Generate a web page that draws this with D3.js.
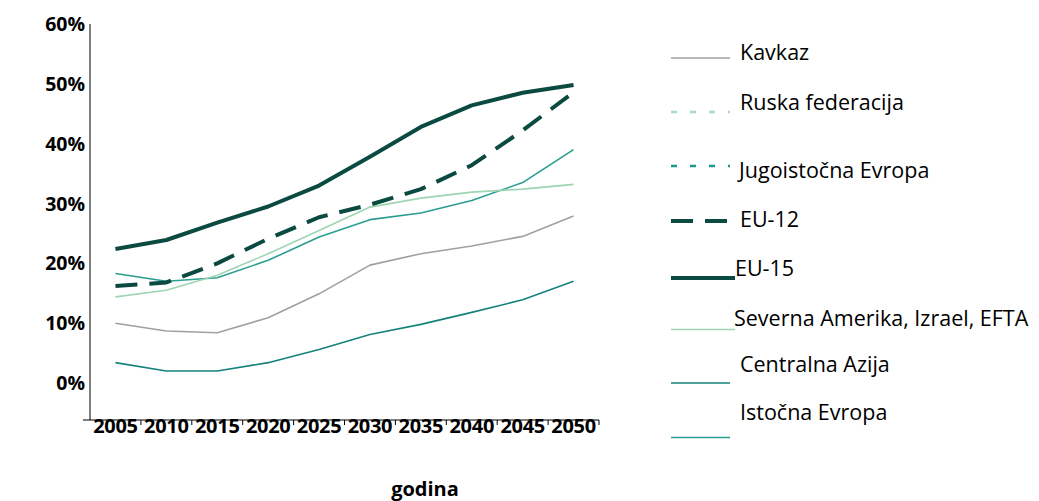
<!DOCTYPE html>
<html>
<head>
<meta charset="utf-8">
<script src="https://cdn.jsdelivr.net/npm/d3@7"></script>
<style>
  body { margin: 0; background: #fff; }
  svg { display: block; }
  text { font-family: "Open Sans", Lato, sans-serif; fill: #000; }
</style>
</head>
<body>
<svg id="chart" width="1039" height="501"></svg>
<script>
// ---- data ----
const years = [2005, 2010, 2015, 2020, 2025, 2030, 2035, 2040, 2045, 2050];
const yTicks = [0, 10, 20, 30, 40, 50, 60];
const xTitle = "godina";

const seriesNames = ["Kavkaz", "Ruska federacija", "Jugoistočna Evropa", "EU-12", "EU-15",
  "Severna Amerika, Izrael, EFTA", "Centralna Azija", "Istočna Evropa"];

const kavkaz   = [10.0, 8.7, 8.4, 10.9, 14.9, 19.7, 21.6, 22.9, 24.5, 27.9];
const ruska    = [];  // not visible in the chart
const jugoist  = [];  // not visible in the chart
const eu12     = [16.2, 16.8, 20.0, 24.1, 27.7, 29.8, 32.4, 36.4, 42.2, 48.6];
const eu15     = [22.4, 23.9, 26.8, 29.5, 33.0, 37.8, 42.8, 46.4, 48.5, 49.8];
const severna  = [14.4, 15.5, 18.0, 21.6, 25.5, 29.4, 30.9, 31.9, 32.4, 33.2];
const centralna= [3.4, 2.0, 2.0, 3.4, 5.6, 8.1, 9.8, 11.8, 13.9, 17.0];
const istocna  = [18.3, 17.0, 17.6, 20.5, 24.4, 27.3, 28.4, 30.5, 33.5, 39.0];

// ---- styles ----
const styles = {
  "Kavkaz": { color: "#a0a0a0", width: 1.6, dash: null },
  "Ruska federacija": { color: "#a9dcc0", width: 2.5, dash: "6,13" },
  "Jugoistočna Evropa": { color: "#1a9a8a", width: 2.5, dash: "6,13" },
  "EU-12": { color: "#0b4a40", width: 4, dash: "22,12" },
  "EU-15": { color: "#0b4a40", width: 4, dash: null },
  "Severna Amerika, Izrael, EFTA": { color: "#9ed5b3", width: 1.6, dash: null },
  "Centralna Azija": { color: "#15827c", width: 1.6, dash: null },
  "Istočna Evropa": { color: "#2a9d8f", width: 1.6, dash: null }
};
const seriesData = [kavkaz, ruska, jugoist, eu12, eu15, severna, centralna, istocna];

// legend layout: line y and text baseline y, text x
const legendLayout = [
  { ly: 58, ty: 60, tx: 740, lx2: 730 },
  { ly: 112, ty: 110, tx: 740, lx2: 730 },
  { ly: 166, ty: 178, tx: 739, lx2: 730 },
  { ly: 221, ty: 227, tx: 740, lx2: 730 },
  { ly: 278, ty: 276, tx: 735, lx2: 735 },
  { ly: 329.5, ty: 326, tx: 734, lx2: 735 },
  { ly: 383, ty: 372, tx: 740, lx2: 730 },
  { ly: 437.5, ty: 420, tx: 740, lx2: 730 }
];

const svg = d3.select("#chart");
const mLeft = 90, mRight = 599, mTop = 24, zeroY = 383, mBottom = 420;

const x = d3.scaleBand().domain(years).range([mLeft, mRight]).padding(0);
const y = d3.scaleLinear().domain([0, 60]).range([zeroY, mTop]);

// y axis line
svg.append("line").attr("x1", mLeft).attr("x2", mLeft).attr("y1", mTop).attr("y2", mBottom)
  .attr("stroke", "#000").attr("stroke-width", 1);
// x axis line + ticks between categories
svg.append("line").attr("x1", mLeft - 7).attr("x2", mRight).attr("y1", mBottom).attr("y2", mBottom)
  .attr("stroke", "#000");
svg.selectAll(".btick").data(years).enter().append("line")
  .attr("x1", d => x(d) + x.bandwidth()).attr("x2", d => x(d) + x.bandwidth())
  .attr("y1", mBottom).attr("y2", mBottom + 5).attr("stroke", "#000");
// x labels via axis
const xAxis = d3.axisBottom(x).tickSize(0).tickFormat(d => d);
const gx = svg.append("g").attr("transform", `translate(0,${mBottom})`).call(xAxis);
gx.select(".domain").remove();
gx.selectAll("text").attr("font-size", 20).attr("font-weight", "bold")
  .attr("font-family", "'Open Sans', sans-serif").attr("fill", "#000")
  .attr("dy", null).attr("y", 13).attr("dominant-baseline", "alphabetic")
  .style("letter-spacing", "-0.3px");

// y tick labels
svg.selectAll(".ylab").data(yTicks).enter().append("text")
  .attr("x", 85).attr("y", d => y(d)).attr("dy", "0.36em")
  .attr("text-anchor", "end").attr("font-size", 19.5).attr("font-weight", "bold")
  .text(d => d + "%");

// x title
svg.append("text").attr("x", 425).attr("y", 496).attr("text-anchor", "middle")
  .attr("font-size", 20).attr("font-weight", "bold").text(xTitle);

// lines
const line = d3.line().x((d, i) => x(years[i]) + x.bandwidth() / 2).y(d => y(d));
const drawOrder = [0, 7, 6, 5, 1, 2, 3, 4];
drawOrder.forEach(i => {
  const data = seriesData[i];
  if (!data.length) return;
  const s = styles[seriesNames[i]];
  svg.append("path").attr("d", line(data)).attr("fill", "none")
    .attr("stroke", s.color).attr("stroke-width", s.width)
    .attr("stroke-dasharray", s.dash).attr("stroke-linejoin", "round");
});

// legend
seriesNames.forEach((name, i) => {
  const s = styles[name], L = legendLayout[i];
  svg.append("line").attr("x1", 671).attr("x2", L.lx2).attr("y1", L.ly).attr("y2", L.ly)
    .attr("stroke", s.color).attr("stroke-width", s.width).attr("stroke-dasharray", s.dash);
  svg.append("text").attr("x", L.tx).attr("y", L.ty).attr("font-size", 21.5).text(name);
});
</script>
</body>
</html>
